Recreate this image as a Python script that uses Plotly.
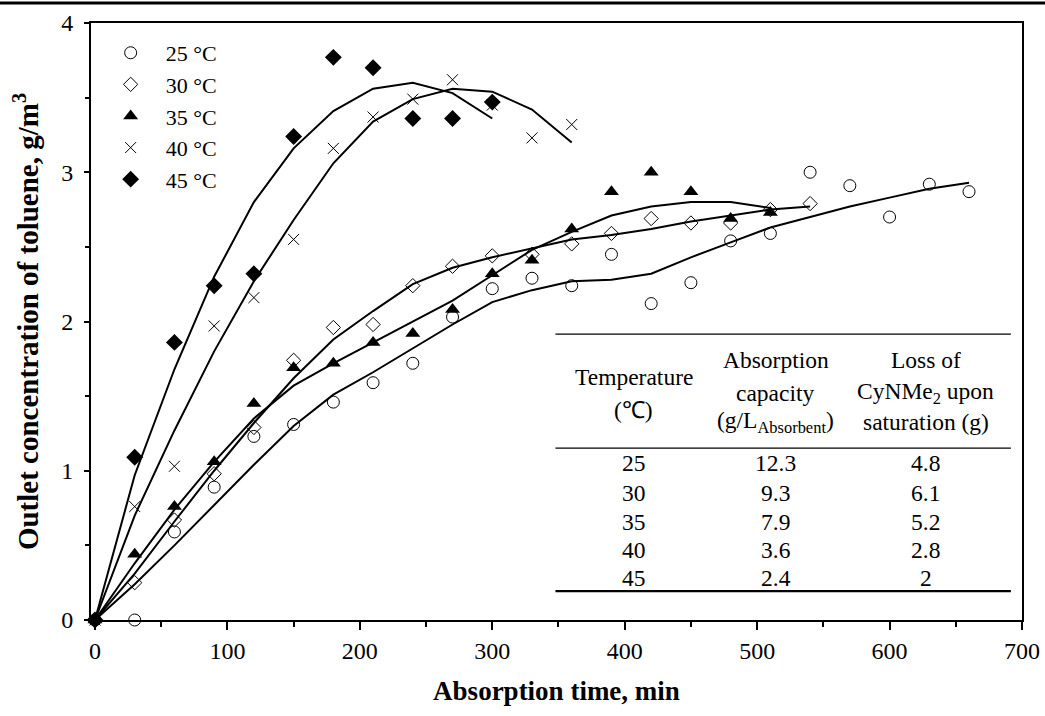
import plotly.graph_objects as go

# ---------------- data ----------------
t25 = [0, 30, 60, 90, 120, 150, 180, 210, 240, 270, 300, 330, 360, 390, 420, 450, 480, 510, 540, 570, 600, 630, 660]
y25 = [0, 0, 0.59, 0.89, 1.23, 1.31, 1.46, 1.59, 1.72, 2.03, 2.22, 2.29, 2.24, 2.45, 2.12, 2.26, 2.54, 2.59, 3.00, 2.91, 2.70, 2.92, 2.87]
fit25 = [0, 0.24, 0.50, 0.77, 1.04, 1.30, 1.51, 1.66, 1.82, 1.98, 2.13, 2.21, 2.27, 2.28, 2.32, 2.43, 2.53, 2.63, 2.70, 2.77, 2.83, 2.89, 2.93]

t30 = [0, 30, 60, 90, 120, 150, 180, 210, 240, 270, 300, 330, 360, 390, 420, 450, 480, 510, 540]
y30 = [0, 0.25, 0.67, 0.98, 1.29, 1.74, 1.96, 1.98, 2.24, 2.37, 2.44, 2.45, 2.52, 2.59, 2.69, 2.66, 2.66, 2.75, 2.79]
fit30 = [0, 0.31, 0.66, 1.00, 1.32, 1.62, 1.88, 2.07, 2.25, 2.36, 2.43, 2.49, 2.55, 2.58, 2.62, 2.67, 2.71, 2.75, 2.77]

t35 = [0, 30, 60, 90, 120, 150, 180, 210, 240, 270, 300, 330, 360, 390, 420, 450, 480, 510]
y35 = [0, 0.44, 0.76, 1.06, 1.45, 1.69, 1.72, 1.86, 1.92, 2.08, 2.32, 2.41, 2.62, 2.87, 3.00, 2.87, 2.69, 2.73]
fit35 = [0, 0.38, 0.74, 1.06, 1.35, 1.57, 1.72, 1.86, 2.00, 2.14, 2.31, 2.48, 2.60, 2.71, 2.77, 2.80, 2.80, 2.76]

t40 = [0, 30, 60, 90, 120, 150, 180, 210, 240, 270, 300, 330, 360]
y40 = [0, 0.76, 1.03, 1.97, 2.16, 2.55, 3.16, 3.37, 3.49, 3.62, 3.45, 3.23, 3.32]
fit40 = [0, 0.70, 1.27, 1.80, 2.27, 2.68, 3.06, 3.34, 3.49, 3.56, 3.54, 3.42, 3.20]

t45 = [0, 30, 60, 90, 120, 150, 180, 210, 240, 270, 300]
y45 = [0, 1.09, 1.86, 2.24, 2.32, 3.24, 3.77, 3.70, 3.36, 3.36, 3.47]
fit45 = [0, 0.97, 1.68, 2.30, 2.80, 3.16, 3.41, 3.56, 3.60, 3.53, 3.36]

series_names = ["25 °C", "30 °C", "35 °C", "40 °C", "45 °C"]

# inset table
tbl_temp = ["25", "30", "35", "40", "45"]
tbl_capacity = ["12.3", "9.3", "7.9", "3.6", "2.4"]
tbl_loss = ["4.8", "6.1", "5.2", "2.8", "2"]

# ---------------- figure ----------------
FONT = "Liberation Serif"
fig = go.Figure()

fits = [(t25, fit25), (t30, fit30), (t35, fit35), (t40, fit40), (t45, fit45)]
for t, f in fits:
    fig.add_trace(go.Scatter(x=t, y=f, mode="lines", showlegend=False,
                             line=dict(color="black", width=2), hoverinfo="skip",
                             cliponaxis=False))

marker_styles = [
    dict(symbol="circle-open", size=12, color="black", line=dict(width=1, color="black")),
    dict(symbol="diamond-open", size=11, color="black", line=dict(width=1, color="black")),
    dict(symbol="triangle-up", size=13, color="black", line=dict(width=0)),
    dict(symbol="x-thin", size=11, color="black", line=dict(width=1, color="black")),
    dict(symbol="diamond", size=13, color="black", line=dict(width=0)),
]
pts = [(t25, y25), (t30, y30), (t35, y35), (t40, y40), (t45, y45)]
for (t, y), name, ms in zip(pts, series_names, marker_styles):
    fig.add_trace(go.Scatter(x=t, y=y, mode="markers", name=name, marker=ms,
                             cliponaxis=False))

# table lines
tbl_x0, tbl_x1 = 347.7, 691.6
shapes = [
    dict(type="line", xref="x", yref="y", x0=tbl_x0, x1=tbl_x1, y0=1.916, y1=1.916,
         line=dict(color="black", width=1.3)),
    dict(type="line", xref="x", yref="y", x0=tbl_x0, x1=tbl_x1, y0=1.152, y1=1.152,
         line=dict(color="black", width=1.3)),
    dict(type="line", xref="x", yref="y", x0=tbl_x0, x1=tbl_x1, y0=0.194, y1=0.194,
         line=dict(color="black", width=2.2)),
    # page rule at the very top
    dict(type="line", xref="paper", yref="paper", x0=-0.1, x1=1.03, y0=1.0335, y1=1.0335,
         line=dict(color="black", width=3)),
]

col_x = [406.7, 514.0, 627.4]
annotations = []
def add_text(x, y, text, size=23.5):
    annotations.append(dict(x=x, y=y, xref="x", yref="y", text=text, showarrow=False,
                            xanchor="center", yanchor="middle",
                            font=dict(family=FONT, size=size, color="black")))

add_text(col_x[0], 1.628, "Temperature")
add_text(col_x[0], 1.407, "(℃)")
add_text(col_x[1], 1.741, "Absorption")
add_text(col_x[1], 1.520, "capacity")
add_text(col_x[1], 1.326, "(g/L<sub>Absorbent</sub>)")
add_text(col_x[2], 1.741, "Loss of")
add_text(col_x[2], 1.520, "CyNMe<sub>2</sub> upon")
add_text(col_x[2], 1.326, "saturation (g)")

row_y = [1.052, 0.851, 0.656, 0.469, 0.281]
for ry, a, b, c in zip(row_y, tbl_temp, tbl_capacity, tbl_loss):
    add_text(col_x[0], ry, a)
    add_text(col_x[1], ry, b)
    add_text(col_x[2], ry, c)

axis_common = dict(
    showline=True, linecolor="black", linewidth=2, mirror=True,
    showgrid=False, zeroline=False, automargin=False,
    ticks="outside", tickwidth=1.5, tickcolor="black",
    tickfont=dict(family=FONT, size=24, color="black"),
)

fig.update_xaxes(range=[-3, 700], tick0=0, dtick=100, ticklen=8,
                 minor=dict(dtick=50, ticks="outside", ticklen=5, tickwidth=1.5,
                            tickcolor="black", showgrid=False),
                 title=dict(text="<b>Absorption time, min</b>", standoff=18,
                            font=dict(family=FONT, size=27, color="black")),
                 **axis_common)
fig.update_yaxes(range=[0, 4], tick0=0, dtick=1, ticklen=5, ticklabelstandoff=6,
                 minor=dict(dtick=0.5, ticks="outside", ticklen=4, tickwidth=1.5,
                            tickcolor="black", showgrid=False),
                 title=dict(text="<b>Outlet concentration of toluene, g/m<sup>3</sup></b>",
                            standoff=14, font=dict(family=FONT, size=29, color="black")),
                 **axis_common)

fig.update_layout(
    width=1045, height=716, autosize=False,
    margin=dict(l=91, r=23, t=23, b=96),
    paper_bgcolor="white", plot_bgcolor="white",
    font=dict(family=FONT, color="black"),
    legend=dict(x=0.005, y=0.985, xanchor="left", yanchor="top",
                font=dict(family=FONT, size=22, color="black"),
                itemwidth=60, bgcolor="rgba(0,0,0,0)", tracegroupgap=0),
    shapes=shapes, annotations=annotations,
)

fig.write_html("out.html", config={"displayModeBar": False},
               post_script="document.body.style.margin='0px';")
